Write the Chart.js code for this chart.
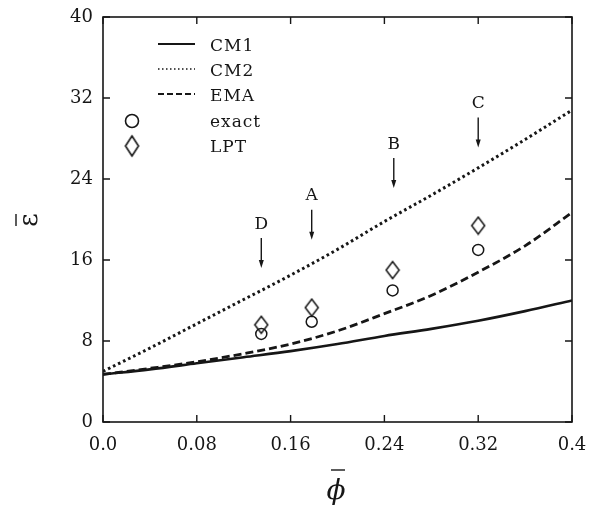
<!DOCTYPE html>
<html>
<head>
<meta charset="utf-8">
<script src="https://cdn.jsdelivr.net/npm/chart.js@4.4.0/dist/chart.umd.min.js"></script>
<style>
  html, body { margin: 0; padding: 0; background: #fff; }
</style>
</head>
<body>
<canvas id="chart" width="592" height="506"></canvas>
<script>
// curve samples (phi bar)
const phiGrid = [0, 0.04, 0.08, 0.12, 0.16, 0.20, 0.24, 0.28, 0.32, 0.36, 0.40];
const cm1 = [4.7, 5.2, 5.8, 6.4, 7.0, 7.7, 8.5, 9.2, 10.0, 10.95, 12.0];
const cm2 = [5.0, 7.3, 9.7, 12.1, 14.5, 17.05, 19.8, 22.4, 25.1, 27.9, 30.8];
const ema = [4.7, 5.3, 5.95, 6.75, 7.7, 9.0, 10.7, 12.5, 14.8, 17.4, 20.7];

// simulation points
const pointPhi = [0.135, 0.178, 0.247, 0.32];
const exact = [8.7, 9.9, 13.0, 17.0];
const lpt = [9.6, 11.3, 15.0, 19.4];

// arrow labels D, A, B, C (tip of arrow in data units)
const markLabels = ['D', 'A', 'B', 'C'];
const markPhi = [0.135, 0.178, 0.248, 0.32];
const markTip = [15.2, 18.0, 23.1, 27.1];

const xTicks = [0, 0.08, 0.16, 0.24, 0.32, 0.4];
const xTickLabels = ['0.0', '0.08', '0.16', '0.24', '0.32', '0.4'];
const yTicks = [0, 8, 16, 24, 32, 40];

const INK = '#161616';
const SERIF = '"DejaVu Serif", "Liberation Serif", serif';

const pairs = (xs, ys) => xs.map((x, i) => ({ x: x, y: ys[i] }));

function diamondImage(hw, hh, lw) {
    const c = document.createElement('canvas');
    c.width = Math.ceil(2 * hw + 2 * lw);
    c.height = Math.ceil(2 * hh + 2 * lw);
    const g = c.getContext('2d');
    const cx = c.width / 2, cy = c.height / 2;
    g.strokeStyle = INK;
    g.lineWidth = lw;
    g.beginPath();
    g.moveTo(cx, cy - hh);
    g.lineTo(cx + hw, cy);
    g.lineTo(cx, cy + hh);
    g.lineTo(cx - hw, cy);
    g.closePath();
    g.stroke();
    return c;
}

const decorations = {
    id: 'decorations',
    afterDraw(chart) {
        const ctx = chart.ctx;
        const a = chart.chartArea;
        const xs = chart.scales.x, ys = chart.scales.y;
        ctx.save();

        // frame
        ctx.strokeStyle = INK;
        ctx.lineWidth = 1.6;
        ctx.strokeRect(a.left, a.top, a.right - a.left, a.bottom - a.top);

        // inward ticks on all four sides
        const tl = 7;
        ctx.lineWidth = 1.4;
        ctx.beginPath();
        xTicks.forEach(v => {
            const px = xs.getPixelForValue(v);
            ctx.moveTo(px, a.bottom); ctx.lineTo(px, a.bottom - tl);
            ctx.moveTo(px, a.top); ctx.lineTo(px, a.top + tl);
        });
        yTicks.forEach(v => {
            const py = ys.getPixelForValue(v);
            ctx.moveTo(a.left, py); ctx.lineTo(a.left + tl, py);
            ctx.moveTo(a.right, py); ctx.lineTo(a.right - tl, py);
        });
        ctx.stroke();

        // legend
        const rows = [46, 71, 96, 122, 147];
        const lx0 = 158, lx1 = 195, tx = 210;
        const names = ['CM1', 'CM2', 'EMA', 'exact', 'LPT'];
        const lineStyles = [
            { w: 1.8, dash: [] },
            { w: 1.5, dash: [1.5, 2.5] },
            { w: 1.8, dash: [6, 3] }
        ];
        lineStyles.forEach((s, i) => {
            ctx.lineWidth = s.w;
            ctx.setLineDash(s.dash);
            ctx.beginPath();
            ctx.moveTo(lx0, rows[i] - 2);
            ctx.lineTo(lx1, rows[i] - 2);
            ctx.stroke();
        });
        ctx.setLineDash([]);
        ctx.lineWidth = 1.6;
        ctx.beginPath();
        ctx.arc(132, rows[3] - 1, 6.5, 0, Math.PI * 2);
        ctx.stroke();
        ctx.drawImage(legendDiamond, 132 - legendDiamond.width / 2, rows[4] - 1 - legendDiamond.height / 2);

        ctx.fillStyle = INK;
        ctx.font = '17px ' + SERIF;
        ctx.textAlign = 'left';
        ctx.textBaseline = 'middle';
        ctx.letterSpacing = '1px';
        names.forEach((n, i) => ctx.fillText(n, tx, rows[i] + 1));
        ctx.letterSpacing = '0px';

        // labelled arrows
        ctx.textAlign = 'center';
        ctx.font = '17px ' + SERIF;
        markLabels.forEach((lab, i) => {
            const px = xs.getPixelForValue(markPhi[i]);
            const tip = ys.getPixelForValue(markTip[i]);
            const top = tip - 30;
            ctx.fillText(lab, px, top - 14);
            ctx.lineWidth = 1.4;
            ctx.beginPath();
            ctx.moveTo(px, top);
            ctx.lineTo(px, tip - 5);
            ctx.stroke();
            ctx.beginPath();
            ctx.moveTo(px - 2.5, tip - 8);
            ctx.lineTo(px + 2.5, tip - 8);
            ctx.lineTo(px, tip);
            ctx.closePath();
            ctx.fill();
        });

        // axis symbols
        ctx.save();
        ctx.translate(30, 220);
        ctx.rotate(-Math.PI / 2);
        ctx.font = '26px ' + SERIF;
        ctx.textAlign = 'center';
        ctx.textBaseline = 'middle';
        ctx.fillText('\u03B5', 0, 0);
        ctx.lineWidth = 1.4;
        ctx.beginPath();
        ctx.moveTo(-6, -14);
        ctx.lineTo(6, -14);
        ctx.stroke();
        ctx.restore();

        ctx.font = 'italic 28px ' + SERIF;
        ctx.textAlign = 'center';
        ctx.textBaseline = 'middle';
        ctx.fillText('\u03D5', 336, 492);
        ctx.lineWidth = 1.4;
        ctx.beginPath();
        ctx.moveTo(331, 470);
        ctx.lineTo(345, 470);
        ctx.stroke();

        ctx.restore();
    }
};

const dataDiamond = diamondImage(6.5, 8.5, 1.5);
const legendDiamond = diamondImage(6.5, 10, 1.6);

const ctx = document.getElementById('chart');
new Chart(ctx, {
    type: 'line',
    data: {
        datasets: [
            {
                label: 'CM1',
                data: pairs(phiGrid, cm1),
                borderColor: INK,
                borderWidth: 2.6,
                pointRadius: 0,
                cubicInterpolationMode: 'monotone'
            },
            {
                label: 'CM2',
                data: pairs(phiGrid, cm2),
                borderColor: INK,
                borderWidth: 3,
                borderDash: [2.6, 3],
                pointRadius: 0,
                cubicInterpolationMode: 'monotone'
            },
            {
                label: 'EMA',
                data: pairs(phiGrid, ema),
                borderColor: INK,
                borderWidth: 2.8,
                borderDash: [8, 4],
                pointRadius: 0,
                cubicInterpolationMode: 'monotone'
            },
            {
                label: 'exact',
                data: pairs(pointPhi, exact),
                showLine: false,
                pointStyle: 'circle',
                pointRadius: 5.5,
                pointBorderWidth: 1.5,
                pointBorderColor: INK,
                pointBackgroundColor: 'rgba(0,0,0,0)'
            },
            {
                label: 'LPT',
                data: pairs(pointPhi, lpt),
                showLine: false,
                pointStyle: dataDiamond,
                pointRadius: 7
            }
        ]
    },
    options: {
        responsive: false,
        animation: false,
        events: [],
        layout: { padding: { top: 17, right: 20, left: 0, bottom: 0 } },
        plugins: {
            legend: { display: false },
            tooltip: { enabled: false }
        },
        scales: {
            x: {
                type: 'linear',
                min: 0,
                max: 0.4,
                grid: { display: false, drawTicks: false },
                border: { display: false },
                afterBuildTicks: (scale) => { scale.ticks = xTicks.map(v => ({ value: v })); },
                afterFit: (scale) => {
                    scale.height = 84;
                    scale.paddingLeft = 0;
                    scale.paddingRight = 0;
                },
                ticks: {
                    color: INK,
                    padding: 13,
                    maxRotation: 0,
                    font: { family: SERIF, size: 18 },
                    callback: (v, i) => xTickLabels[i]
                }
            },
            y: {
                min: 0,
                max: 40,
                grid: { display: false, drawTicks: false },
                border: { display: false },
                afterBuildTicks: (scale) => { scale.ticks = yTicks.map(v => ({ value: v })); },
                afterFit: (scale) => {
                    scale.width = 103;
                    scale.paddingTop = 0;
                    scale.paddingBottom = 0;
                },
                ticks: {
                    color: INK,
                    padding: 10,
                    font: { family: SERIF, size: 18 },
                    callback: (v) => String(v)
                }
            }
        }
    },
    plugins: [decorations]
});
</script>
</body>
</html>
